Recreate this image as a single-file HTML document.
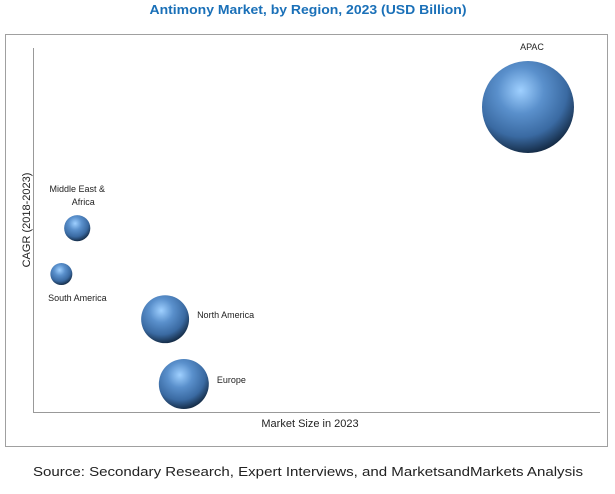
<!DOCTYPE html>
<html><head><meta charset="utf-8"><style>
body{margin:0;background:#fff;width:615px;height:489px;overflow:hidden;font-family:"Liberation Sans",sans-serif}
</style></head><body>
<svg width="615" height="489">
<defs>
<radialGradient id="g" cx="0.42" cy="0.32" r="0.72">
<stop offset="0" stop-color="#9fd0ff"/>
<stop offset="0.35" stop-color="#5a90cc"/>
<stop offset="0.7" stop-color="#3a6aa2"/>
<stop offset="1" stop-color="#0f2238"/>
</radialGradient>
</defs>
<text x="308" y="14" text-anchor="middle" font-size="13" font-weight="bold" fill="#1a70b8" textLength="317" lengthAdjust="spacingAndGlyphs">Antimony Market, by Region, 2023 (USD Billion)</text>
<rect x="5.5" y="34.5" width="602" height="412" fill="none" stroke="#a0a0a0"/>
<line x1="33.5" y1="48" x2="33.5" y2="412" stroke="#999"/>
<line x1="33" y1="412.5" x2="600" y2="412.5" stroke="#999"/>
<text x="310" y="427" text-anchor="middle" font-size="11" fill="#222">Market Size in 2023</text>
<text transform="translate(30,220) rotate(-90)" text-anchor="middle" font-size="11" fill="#222">CAGR (2018-2023)</text>
<g id="bubbles"></g>
<text x="308" y="476" text-anchor="middle" font-size="13" fill="#222" textLength="550" lengthAdjust="spacingAndGlyphs">Source: Secondary Research, Expert Interviews, and MarketsandMarkets Analysis</text>
</svg>
<script>
const regions=["APAC","Middle East & Africa","South America","North America","Europe"];
const marketSize=[87.3,7.8,5.0,23.3,26.6];
const cagr=[83.8,50.5,37.9,25.5,7.7];
const bubbleSize=[2.1,0.17,0.12,0.57,0.62];
const xs=v=>33+v/100*567, ys=v=>412-v/100*364, rs=v=>46*Math.sqrt(v/2.1);
const NS="http://www.w3.org/2000/svg", g=document.getElementById('bubbles');
function txt(x,y,s,anchor){const t=document.createElementNS(NS,'text');t.setAttribute('x',x);t.setAttribute('y',y);t.setAttribute('font-size','9');t.setAttribute('fill','#222');t.setAttribute('text-anchor',anchor);t.textContent=s;


g.appendChild(t);}
regions.forEach((n,i)=>{
const cx=xs(marketSize[i]),cy=ys(cagr[i]),r=rs(bubbleSize[i]);
const c=document.createElementNS(NS,'circle');c.setAttribute('cx',cx);c.setAttribute('cy',cy);c.setAttribute('r',r);c.setAttribute('fill','url(#g)');


g.appendChild(c);
if(i===0)txt(cx+4,cy-57,n,'middle');
else if(i===1){txt(cx,cy-36,'Middle East &','middle');txt(cx+6,cy-23,'Africa','middle');}
else if(i===2)txt(cx+16,cy+27,n,'middle');
else txt(cx+r+8,cy-1,n,'start');
});
</script>
</body></html>
